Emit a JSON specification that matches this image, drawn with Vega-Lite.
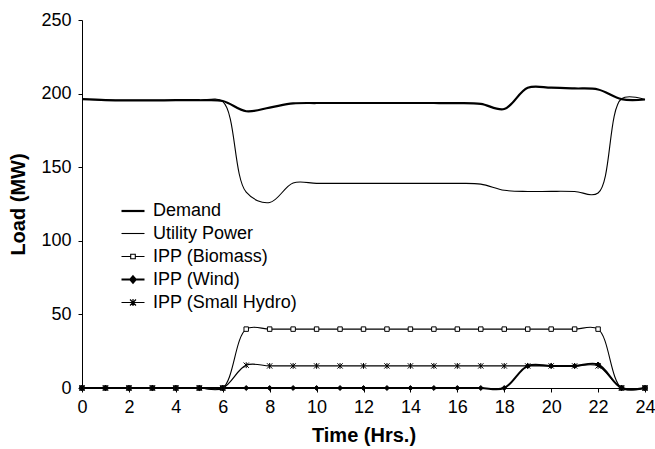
{
  "$schema": "https://vega.github.io/schema/vega-lite/v6.json",
  "width": 563,
  "height": 368,
  "autosize": {"type": "none"},
  "padding": {"left": 82, "top": 20, "right": 10, "bottom": 61},
  "background": "white",
  "config": {
    "view": {"stroke": null},
    "font": "Liberation Sans",
    "axis": {
      "grid": false,
      "domainColor": "black",
      "tickColor": "black",
      "labelColor": "black",
      "titleColor": "black",
      "labelFont": "Liberation Sans",
      "labelFontSize": 18,
      "titleFont": "Liberation Sans",
      "titleFontSize": 20,
      "titleFontWeight": "bold",
      "tickSize": 4
    }
  },
  "data": {
    "values": [
      {"hour": 0, "series": "Demand", "value": 196.2},
      {"hour": 1, "series": "Demand", "value": 195.6},
      {"hour": 2, "series": "Demand", "value": 195.4},
      {"hour": 3, "series": "Demand", "value": 195.4},
      {"hour": 4, "series": "Demand", "value": 195.5},
      {"hour": 5, "series": "Demand", "value": 195.5},
      {"hour": 6, "series": "Demand", "value": 195},
      {"hour": 7, "series": "Demand", "value": 188},
      {"hour": 8, "series": "Demand", "value": 190.5},
      {"hour": 9, "series": "Demand", "value": 193.3},
      {"hour": 10, "series": "Demand", "value": 193.6},
      {"hour": 11, "series": "Demand", "value": 193.6},
      {"hour": 12, "series": "Demand", "value": 193.6},
      {"hour": 13, "series": "Demand", "value": 193.6},
      {"hour": 14, "series": "Demand", "value": 193.6},
      {"hour": 15, "series": "Demand", "value": 193.6},
      {"hour": 16, "series": "Demand", "value": 193.5},
      {"hour": 17, "series": "Demand", "value": 193},
      {"hour": 18, "series": "Demand", "value": 189.5},
      {"hour": 19, "series": "Demand", "value": 204},
      {"hour": 20, "series": "Demand", "value": 204},
      {"hour": 21, "series": "Demand", "value": 203.5},
      {"hour": 22, "series": "Demand", "value": 202.8},
      {"hour": 23, "series": "Demand", "value": 196.2},
      {"hour": 24, "series": "Demand", "value": 196},
      {"hour": 0, "series": "Utility Power", "value": 196.2},
      {"hour": 1, "series": "Utility Power", "value": 195.6},
      {"hour": 2, "series": "Utility Power", "value": 195.4},
      {"hour": 3, "series": "Utility Power", "value": 195.4},
      {"hour": 4, "series": "Utility Power", "value": 195.5},
      {"hour": 5, "series": "Utility Power", "value": 195.5},
      {"hour": 6, "series": "Utility Power", "value": 194.5},
      {"hour": 7, "series": "Utility Power", "value": 133},
      {"hour": 8, "series": "Utility Power", "value": 126},
      {"hour": 9, "series": "Utility Power", "value": 139.3},
      {"hour": 10, "series": "Utility Power", "value": 139},
      {"hour": 11, "series": "Utility Power", "value": 139},
      {"hour": 12, "series": "Utility Power", "value": 139},
      {"hour": 13, "series": "Utility Power", "value": 139},
      {"hour": 14, "series": "Utility Power", "value": 139},
      {"hour": 15, "series": "Utility Power", "value": 139},
      {"hour": 16, "series": "Utility Power", "value": 139},
      {"hour": 17, "series": "Utility Power", "value": 138.5},
      {"hour": 18, "series": "Utility Power", "value": 134.3},
      {"hour": 19, "series": "Utility Power", "value": 133.5},
      {"hour": 20, "series": "Utility Power", "value": 133.6},
      {"hour": 21, "series": "Utility Power", "value": 133.5},
      {"hour": 22, "series": "Utility Power", "value": 132.5},
      {"hour": 23, "series": "Utility Power", "value": 196.5},
      {"hour": 24, "series": "Utility Power", "value": 196},
      {"hour": 0, "series": "IPP (Biomass)", "value": 0},
      {"hour": 1, "series": "IPP (Biomass)", "value": 0},
      {"hour": 2, "series": "IPP (Biomass)", "value": 0},
      {"hour": 3, "series": "IPP (Biomass)", "value": 0},
      {"hour": 4, "series": "IPP (Biomass)", "value": 0},
      {"hour": 5, "series": "IPP (Biomass)", "value": 0},
      {"hour": 6, "series": "IPP (Biomass)", "value": 0},
      {"hour": 7, "series": "IPP (Biomass)", "value": 40},
      {"hour": 8, "series": "IPP (Biomass)", "value": 40},
      {"hour": 9, "series": "IPP (Biomass)", "value": 40},
      {"hour": 10, "series": "IPP (Biomass)", "value": 40},
      {"hour": 11, "series": "IPP (Biomass)", "value": 40},
      {"hour": 12, "series": "IPP (Biomass)", "value": 40},
      {"hour": 13, "series": "IPP (Biomass)", "value": 40},
      {"hour": 14, "series": "IPP (Biomass)", "value": 40},
      {"hour": 15, "series": "IPP (Biomass)", "value": 40},
      {"hour": 16, "series": "IPP (Biomass)", "value": 40},
      {"hour": 17, "series": "IPP (Biomass)", "value": 40},
      {"hour": 18, "series": "IPP (Biomass)", "value": 40},
      {"hour": 19, "series": "IPP (Biomass)", "value": 40},
      {"hour": 20, "series": "IPP (Biomass)", "value": 40},
      {"hour": 21, "series": "IPP (Biomass)", "value": 40},
      {"hour": 22, "series": "IPP (Biomass)", "value": 40},
      {"hour": 23, "series": "IPP (Biomass)", "value": 0},
      {"hour": 24, "series": "IPP (Biomass)", "value": 0},
      {"hour": 0, "series": "IPP (Wind)", "value": 0},
      {"hour": 1, "series": "IPP (Wind)", "value": 0},
      {"hour": 2, "series": "IPP (Wind)", "value": 0},
      {"hour": 3, "series": "IPP (Wind)", "value": 0},
      {"hour": 4, "series": "IPP (Wind)", "value": 0},
      {"hour": 5, "series": "IPP (Wind)", "value": 0},
      {"hour": 6, "series": "IPP (Wind)", "value": 0},
      {"hour": 7, "series": "IPP (Wind)", "value": 0},
      {"hour": 8, "series": "IPP (Wind)", "value": 0},
      {"hour": 9, "series": "IPP (Wind)", "value": 0},
      {"hour": 10, "series": "IPP (Wind)", "value": 0},
      {"hour": 11, "series": "IPP (Wind)", "value": 0},
      {"hour": 12, "series": "IPP (Wind)", "value": 0},
      {"hour": 13, "series": "IPP (Wind)", "value": 0},
      {"hour": 14, "series": "IPP (Wind)", "value": 0},
      {"hour": 15, "series": "IPP (Wind)", "value": 0},
      {"hour": 16, "series": "IPP (Wind)", "value": 0},
      {"hour": 17, "series": "IPP (Wind)", "value": 0},
      {"hour": 18, "series": "IPP (Wind)", "value": 0},
      {"hour": 19, "series": "IPP (Wind)", "value": 15},
      {"hour": 20, "series": "IPP (Wind)", "value": 15},
      {"hour": 21, "series": "IPP (Wind)", "value": 15},
      {"hour": 22, "series": "IPP (Wind)", "value": 16},
      {"hour": 23, "series": "IPP (Wind)", "value": 0},
      {"hour": 24, "series": "IPP (Wind)", "value": 0},
      {"hour": 0, "series": "IPP (Small Hydro)", "value": 0},
      {"hour": 1, "series": "IPP (Small Hydro)", "value": 0},
      {"hour": 2, "series": "IPP (Small Hydro)", "value": 0},
      {"hour": 3, "series": "IPP (Small Hydro)", "value": 0},
      {"hour": 4, "series": "IPP (Small Hydro)", "value": 0},
      {"hour": 5, "series": "IPP (Small Hydro)", "value": 0},
      {"hour": 6, "series": "IPP (Small Hydro)", "value": 0},
      {"hour": 7, "series": "IPP (Small Hydro)", "value": 15.5},
      {"hour": 8, "series": "IPP (Small Hydro)", "value": 15},
      {"hour": 9, "series": "IPP (Small Hydro)", "value": 15},
      {"hour": 10, "series": "IPP (Small Hydro)", "value": 15},
      {"hour": 11, "series": "IPP (Small Hydro)", "value": 15},
      {"hour": 12, "series": "IPP (Small Hydro)", "value": 15},
      {"hour": 13, "series": "IPP (Small Hydro)", "value": 15},
      {"hour": 14, "series": "IPP (Small Hydro)", "value": 15},
      {"hour": 15, "series": "IPP (Small Hydro)", "value": 15},
      {"hour": 16, "series": "IPP (Small Hydro)", "value": 15},
      {"hour": 17, "series": "IPP (Small Hydro)", "value": 15},
      {"hour": 18, "series": "IPP (Small Hydro)", "value": 15},
      {"hour": 19, "series": "IPP (Small Hydro)", "value": 15},
      {"hour": 20, "series": "IPP (Small Hydro)", "value": 15},
      {"hour": 21, "series": "IPP (Small Hydro)", "value": 15},
      {"hour": 22, "series": "IPP (Small Hydro)", "value": 15},
      {"hour": 23, "series": "IPP (Small Hydro)", "value": 0},
      {"hour": 24, "series": "IPP (Small Hydro)", "value": 0}
    ]
  },
  "encoding": {
    "x": {
      "field": "hour", "type": "quantitative", "title": "Time (Hrs.)",
      "scale": {"domain": [0, 24], "nice": false},
      "axis": {"values": [0, 2, 4, 6, 8, 10, 12, 14, 16, 18, 20, 22, 24], "labelPadding": 6, "titlePadding": 9, "labelFlush": false}
    },
    "y": {
      "field": "value", "type": "quantitative", "title": "Load (MW)",
      "scale": {"domain": [0, 250], "nice": false},
      "axis": {"values": [0, 50, 100, 150, 200, 250], "labelPadding": 7, "titlePadding": 12, "labelFlush": false}
    }
  },
  "layer": [
    {
      "mark": {"type": "line", "interpolate": "catmull-rom"},
      "encoding": {
        "color": {
          "field": "series", "type": "nominal",
          "scale": {
            "domain": ["Demand", "Utility Power", "IPP (Biomass)", "IPP (Wind)", "IPP (Small Hydro)"],
            "range": ["black", "black", "black", "black", "black"]
          },
          "legend": {
            "orient": "none",
            "legendX": 38,
            "legendY": 178,
            "title": null,
            "labelFont": "Liberation Sans",
            "labelFontSize": 18,
            "labelColor": "black",
            "labelOffset": 7,
            "symbolSize": 529,
            "rowPadding": 1,
            "encode": {
              "symbols": {
                "update": {
                  "shape": {"signal": "datum.value === 'IPP (Biomass)' ? 'M-1,0L-0.2,0M0.2,0L1,0M-0.2,-0.2L0.2,-0.2L0.2,0.2L-0.2,0.2Z' : datum.value === 'IPP (Wind)' ? 'M-1,0L1,0M0,-0.28L0.24,0L0,0.28L-0.24,0Z' : datum.value === 'IPP (Small Hydro)' ? 'M-1,0L1,0M-0.26,-0.26L0.26,0.26M-0.26,0.26L0.26,-0.26M0,-0.3L0,0.3' : 'M-1,0L1,0'"},
                  "strokeWidth": {"signal": "datum.value === 'Demand' ? 2.2 : datum.value === 'IPP (Wind)' ? 2 : 1.1"},
                  "fill": {"signal": "datum.value === 'IPP (Wind)' ? 'black' : 'white'"},
                  "stroke": {"value": "black"}
                }
              }
            }
          }
        },
        "strokeWidth": {
          "field": "series", "type": "ordinal",
          "scale": {
            "type": "ordinal",
            "domain": ["Demand", "Utility Power", "IPP (Biomass)", "IPP (Wind)", "IPP (Small Hydro)"],
            "range": [2.2, 1.1, 1.1, 2, 1.2]
          },
          "legend": null
        }
      }
    },
    {
      "transform": [{"filter": {"field": "series", "oneOf": ["IPP (Biomass)", "IPP (Wind)", "IPP (Small Hydro)"]}}],
      "mark": {"type": "point", "filled": false, "stroke": "black", "strokeWidth": 1, "opacity": 1},
      "encoding": {
        "shape": {
          "field": "series", "type": "nominal",
          "scale": {
            "domain": ["IPP (Biomass)", "IPP (Wind)", "IPP (Small Hydro)"],
            "range": ["square", "diamond", "M-1,-1L1,1M-1,1L1,-1M0,-1.1L0,1.1"]
          },
          "legend": null
        },
        "fill": {
          "field": "series", "type": "nominal",
          "scale": {
            "domain": ["IPP (Biomass)", "IPP (Wind)", "IPP (Small Hydro)"],
            "range": ["white", "black", "black"]
          },
          "legend": null
        },
        "size": {
          "field": "series", "type": "nominal",
          "scale": {
            "domain": ["IPP (Biomass)", "IPP (Wind)", "IPP (Small Hydro)"],
            "range": [20, 28, 40]
          },
          "legend": null
        }
      }
    }
  ]
}
